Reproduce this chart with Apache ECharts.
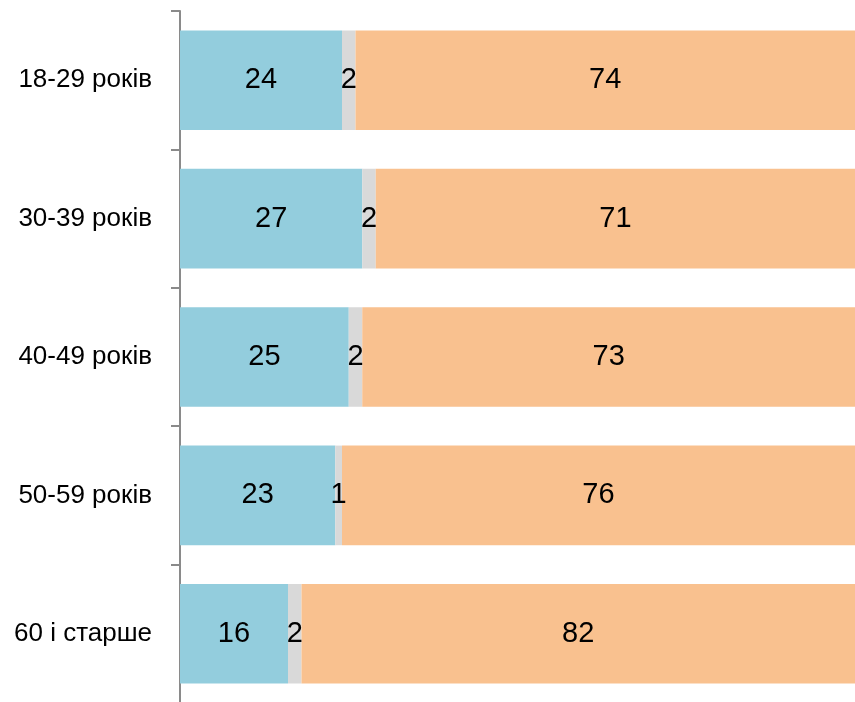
<!DOCTYPE html>
<html lang="uk">
<head>
    <meta charset="UTF-8">
    <title>stacked-bars</title>
    <script src="https://cdn.jsdelivr.net/npm/echarts@6.0.0/dist/echarts.min.js"></script>
    <style>
        html, body { margin: 0; padding: 0; background: #fff; }
    </style>
</head>
<body>
    <div id="main" style="width: 855px;height:702px;"></div>

    <script>
        // вікові групи та частки (%)
        var categories = ['18-29 років', '30-39 років', '40-49 років', '50-59 років', '60 і старше'];
        var shareBlue = [24, 27, 25, 23, 16];
        var shareGray = [2, 2, 2, 1, 2];
        var shareOrange = [74, 71, 73, 76, 82];

        var FONT = "'Liberation Sans', Arial, sans-serif";

        var myChart = echarts.init(document.getElementById('main'));

        function barSeries(name, data, color) {
            return {
                name: name,
                type: 'bar',
                stack: 'total',
                data: data,
                barCategoryGap: '28%',
                itemStyle: { color: color },
                label: {
                    show: true,
                    position: 'inside',
                    color: '#000',
                    fontFamily: FONT,
                    fontSize: 29
                },
                emphasis: { disabled: true }
            };
        }

        var option = {
            animation: false,
            backgroundColor: '#fff',
            grid: { left: 180, right: 0, top: 11, height: 692, outerBoundsMode: 'none', containLabel: false },
            xAxis: {
                type: 'value',
                min: 0,
                max: 100,
                show: false
            },
            yAxis: {
                type: 'category',
                inverse: true,
                data: categories,
                axisLine: { show: true, lineStyle: { color: '#8a8a8a', width: 2 } },
                axisTick: { show: true, length: 9, lineStyle: { color: '#8a8a8a', width: 2 } },
                axisLabel: {
                    color: '#000',
                    fontFamily: FONT,
                    fontSize: 26,
                    margin: 28
                }
            },
            series: [
                barSeries('blue', shareBlue, '#93cddd'),
                barSeries('gray', shareGray, '#d9d9d9'),
                barSeries('orange', shareOrange, '#f9c18f')
            ]
        };

        myChart.setOption(option);
    </script>
</body>
</html>
